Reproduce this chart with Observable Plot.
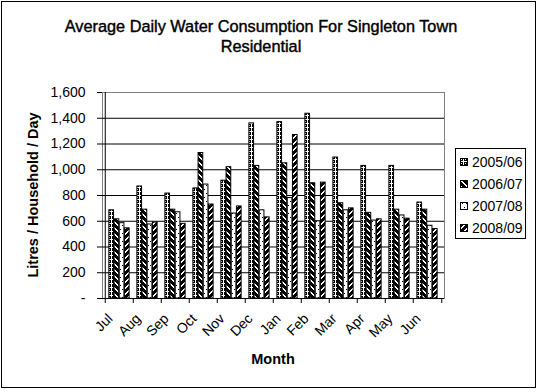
<!DOCTYPE html>
<html><head><meta charset="utf-8">
<script src="https://cdn.jsdelivr.net/npm/d3@7"></script>
<script src="https://cdn.jsdelivr.net/npm/@observablehq/plot@0.6"></script>
<style>
html,body{margin:0;padding:0;background:#fff;}
#wrap{position:relative;width:538px;height:392px;overflow:hidden;font-family:"Liberation Sans",Arial,sans-serif;color:#000;background:#fff;}
#chart{position:absolute;left:0;top:0;}
#title{position:absolute;left:0;top:16px;width:522px;text-align:center;font-size:16.3px;font-weight:normal;line-height:20px;-webkit-text-stroke:0.4px #000;}
#ylab{position:absolute;left:33px;top:195px;transform:translate(-50%,-50%) rotate(-90deg);white-space:nowrap;font-size:14.5px;font-weight:bold;}
#xlab{position:absolute;left:273px;top:351px;transform:translateX(-50%);font-size:14.5px;font-weight:bold;}
#legend{position:absolute;left:455px;top:148px;width:71px;height:91px;box-sizing:border-box;border:1px solid #000;padding:2px 0 0 4px;}
.item{display:flex;align-items:center;height:22px;font-size:14px;}
.item svg{margin-right:3px;}
#border{position:absolute;left:1px;top:1px;width:535px;height:387px;box-sizing:border-box;border:1px solid #000;pointer-events:none;}
</style></head><body>
<div id="wrap">
<svg width="0" height="0" style="position:absolute" id="defs"><defs></defs></svg>
<div id="chart"></div>
<div id="title">Average Daily Water Consumption For Singleton Town<br>Residential</div>
<div id="ylab">Litres / Household / Day</div>
<div id="xlab">Month</div>
<div id="legend"></div>
<div id="border"></div>
</div>
<script>
const months = ["Jul","Aug","Sep","Oct","Nov","Dec","Jan","Feb","Mar","Apr","May","Jun"];
const series = ["2005/06","2006/07","2007/08","2008/09"];
const v200506 = [685, 870, 815, 855, 915, 1360, 1370, 1435, 1095, 1030, 1030, 745];
const v200607 = [615, 690, 690, 1130, 1020, 1030, 1050, 895, 740, 665, 690, 690];
const v200708 = [585, 575, 670, 885, 660, 685, 780, 600, 685, 605, 645, 565];
const v200809 = [545, 590, 580, 730, 715, 630, 1270, 900, 700, 615, 620, 540];
const yTicks = [0, 200, 400, 600, 800, 1000, 1200, 1400, 1600];
const values = [v200506, v200607, v200708, v200809];

// patterns (1px cells), strings of rows: B = black, . = white
const invert = r => r.split("").map(c => c === "B" ? "." : "B").join("");
const patterns = [
  ["BBB.","B.B.","BBB.","...."],
  ["BB....",".BB...","..BB..","...BB.","....BB","B....B"].map(invert),
  ["....","..B.","....","....","....","B...","....","...."],
  ["....BB","...BB.","..BB..",".BB...","BB....","B....B"].map(invert)
];
const defs = d3.select("#defs defs");
patterns.forEach((rows, k) => {
  const w = rows[0].length, h = rows.length;
  const p = defs.append("pattern").attr("id", "pat" + k).attr("patternUnits", "userSpaceOnUse")
    .attr("width", w).attr("height", h);
  p.append("rect").attr("width", w).attr("height", h).attr("fill", "#fff");
  rows.forEach((r, y) => r.split("").forEach((c, x) => {
    if (c === "B") p.append("rect").attr("x", x).attr("y", y).attr("width", 1).attr("height", 1).attr("fill", "#000");
  }));
});

const W = 538, H = 392;
const mL = 102, mR = 94, mT = 92, mB = 94;
const bw = (W - mL - mR) / months.length;
const barW = bw / 5.5;
const gap = barW * 0.75;

const rows = months.map((m, i) => ({month: m, vals: values.map(v => v[i])}));
const barMarks = series.map((s, k) => Plot.barY(rows, {
  x: "month", y: d => d.vals[k],
  insetLeft: gap + k * barW, insetRight: bw - gap - (k + 1) * barW,
  fill: `url(#pat${k})`, stroke: "#000", strokeWidth: 1
}));

const chart = Plot.plot({
  width: W, height: H,
  marginLeft: mL, marginRight: mR, marginTop: mT, marginBottom: mB,
  style: {background: "transparent", color: "#000", fontFamily: "Liberation Sans, Arial, sans-serif"},
  x: {type: "band", domain: months, padding: 0, axis: null},
  y: {domain: [0, 1600], axis: null},
  marks: [
    Plot.frame({stroke: "#808080"}),
    Plot.ruleY(yTicks.slice(1, -1), {stroke: "#000"}),
    ...barMarks,
    Plot.ruleY([0], {stroke: "#000"}),
    Plot.ruleX([months[0]], {x: d => d, dx: -bw / 2, y1: 0, y2: 1600, stroke: "#000"}),
    Plot.ruleX(months, {x: d => d, dx: -bw / 2, y1: 0, y2: 0, insetTop: 5, stroke: "#000"}),
    Plot.ruleX([months[months.length - 1]], {x: d => d, dx: bw / 2, y1: 0, y2: 0, insetTop: 5, stroke: "#000"}),
    Plot.axisY({ticks: yTicks, tickFormat: d => d === 0 ? "-" : d3.format(",")(d), tickSize: 5, tickPadding: 12, fontSize: 14, label: null}),
    Plot.text(months, {x: d => d, text: d => d, frameAnchor: "bottom", rotate: -45, textAnchor: "end", dx: -6, dy: 21, fontSize: 14})
  ]
});
document.getElementById("chart").appendChild(chart);

const leg = d3.select("#legend");
series.forEach((s, k) => {
  const it = leg.append("div").attr("class", "item");
  const sv = it.append("svg").attr("width", 9).attr("height", 9);
  sv.append("rect").attr("x", 0.5).attr("y", 0.5).attr("width", 7).attr("height", 7)
    .attr("fill", `url(#pat${k})`).attr("stroke", "#000");
  it.append("span").text(s);
});
</script>
</body></html>
